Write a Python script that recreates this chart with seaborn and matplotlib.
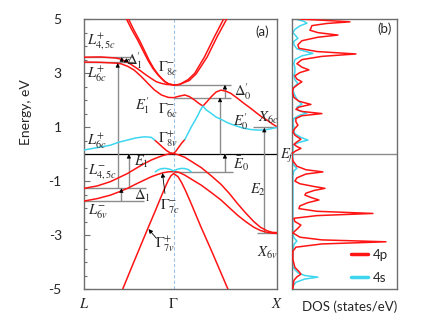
"""Band structure (a) and partial DOS (b) redrawn with seaborn."""
import matplotlib
matplotlib.use("Agg")
import matplotlib.pyplot as plt
import pandas as pd
import seaborn as sns

RED = "#ff1414"
CYAN = "#3ed6ef"
GREY = "#8c8c8c"
SPINE = "#6e6e6e"

# k-path: L = 0, Gamma = 0.866, X = 1.866
k_ticks = [0.0, 0.866, 1.866]
k_labels = [r"$L$", r"$\Gamma$", r"$X$"]
e_ticks = [5, 3, 1, -1, -3, -5]
e_labels = ["5", "3", "1", "-1", "-3", "-5"]

# ---- bands (k, energy in eV) ----
# L4,5c+ -> Gamma8c- and on up towards X
cb_l45_k = [0, 0.157, 0.305, 0.354, 0.423, 0.522, 0.600, 0.650, 0.699, 0.748, 0.797, 0.866,
            0.911, 0.942, 1.006, 1.069, 1.164, 1.259, 1.355]
cb_l45_e = [3.59, 3.60, 3.56, 3.52, 3.40, 3.15, 2.93, 2.80, 2.68, 2.62, 2.58, 2.56,
            2.57, 2.62, 2.76, 2.99, 3.60, 4.34, 5.05]
# second Gamma8c- branch towards X
cb_g8r_k = [0.866, 0.923, 0.942, 1.018, 1.085, 1.190, 1.285, 1.385]
cb_g8r_e = [2.56, 2.58, 2.61, 2.73, 2.98, 3.60, 4.34, 5.05]
# steep Gamma8c- branches towards L
cb_g8a_k = [0.404, 0.463, 0.519, 0.568, 0.617, 0.666, 0.715, 0.748, 0.781, 0.817, 0.866]
cb_g8b_k = [0.424, 0.481, 0.535, 0.582, 0.628, 0.674, 0.720, 0.752, 0.784, 0.818, 0.866]
cb_g8l_e = [5.05, 4.60, 4.22, 3.85, 3.48, 3.17, 2.93, 2.80, 2.68, 2.60, 2.56]
# L6c+ -> Gamma6c- -> X6c
cb_l6_k = [0, 0.157, 0.305, 0.354, 0.423, 0.485, 0.551, 0.617, 0.679, 0.748, 0.814, 0.866,
           0.914, 0.974, 1.018, 1.069, 1.109, 1.149, 1.190, 1.228, 1.276, 1.323, 1.371,
           1.418, 1.482, 1.545, 1.609, 1.672, 1.723, 1.768, 1.818, 1.866]
cb_l6_e = [3.41, 3.40, 3.37, 3.35, 3.25, 3.11, 2.88, 2.62, 2.38, 2.19, 2.10, 2.09,
           2.14, 2.19, 2.13, 2.00, 1.88, 1.78, 1.95, 2.12, 2.30, 2.37, 2.33,
           2.25, 2.07, 1.88, 1.70, 1.51, 1.36, 1.26, 1.12, 1.01]
# s-like band (cyan) from L, and its Gamma8v+ red part
s_left_k = [0, 0.128, 0.256, 0.335, 0.420, 0.502, 0.584, 0.650, 0.682]
s_left_e = [0.15, 0.24, 0.33, 0.44, 0.52, 0.60, 0.64, 0.62, 0.52]
lens_left_k = [0.682, 0.718, 0.758, 0.797, 0.831, 0.866]
lens_left_e = [0.52, 0.40, 0.26, 0.13, 0.05, 0.02]
lens_right_k = [0.866, 0.890, 0.914, 0.942, 0.974]
lens_right_e = [0.02, 0.12, 0.25, 0.40, 0.54]
s_right_k = [0.974, 1.006, 1.037, 1.069, 1.101, 1.123, 1.149, 1.180, 1.228, 1.276, 1.323,
             1.387, 1.450, 1.530, 1.609, 1.672, 1.736, 1.799, 1.866]
s_right_e = [0.54, 0.78, 1.01, 1.22, 1.44, 1.62, 1.78, 1.64, 1.51, 1.37, 1.29,
             1.16, 1.07, 0.97, 0.91, 0.89, 0.89, 0.93, 0.99]
# valence: L4,5v- -> Gamma8v+, Gamma8v+ -> X6v
vb1_left_k = [0, 0.128, 0.256, 0.338, 0.420, 0.502, 0.584, 0.650, 0.715, 0.765, 0.814, 0.866]
vb1_left_e = [-1.27, -1.18, -1.02, -0.87, -0.72, -0.53, -0.35, -0.22, -0.12, -0.05, 0.00, 0.02]
vb_right_k = [0.866, 0.914, 0.974, 1.037, 1.132, 1.228, 1.323, 1.402, 1.482, 1.561, 1.640,
              1.704, 1.768, 1.818, 1.866]
vb1_right_e = [0.02, -0.03, -0.12, -0.27, -0.50, -0.80, -1.12, -1.45, -1.83, -2.18, -2.50,
               -2.71, -2.84, -2.90, -2.91]
# L6v- -> Gamma -> X6v
vb2_left_e = [-1.74, -1.65, -1.52, -1.40, -1.27, -1.11, -0.96, -0.84, -0.75, -0.69, -0.66, -0.65]
vb2_right_e = [-0.65, -0.67, -0.78, -0.93, -1.15, -1.42, -1.70, -1.98, -2.26, -2.50, -2.71,
               -2.83, -2.90, -2.93, -2.94]
# Gamma7v+
g7v_k = [0.374, 0.453, 0.531, 0.617, 0.689, 0.748, 0.787, 0.817, 0.841, 0.866,
         0.909, 0.942, 0.980, 1.037, 1.132, 1.228, 1.323, 1.390]
g7v_e = [-5.0, -4.26, -3.54, -2.75, -2.10, -1.55, -1.20, -0.95, -0.80, -0.72,
         -0.84, -1.05, -1.35, -1.85, -2.72, -3.55, -4.40, -5.0]
# Gamma7c- (cyan)
g7c_k = [0.689, 0.718, 0.748, 0.787, 0.827, 0.866, 0.904, 0.942, 0.980, 1.009, 1.037]
g7c_e = [-0.66, -0.58, -0.54, -0.53, -0.56, -0.62, -0.56, -0.53, -0.54, -0.58, -0.66]

# ---- partial DOS (energy, states/eV) ----
dos_p_e = [5.00, 4.95, 4.90, 4.84, 4.76, 4.66, 4.59, 4.50, 4.41, 4.33, 4.20, 4.05, 3.92, 3.80,
           3.71, 3.62, 3.50, 3.35, 3.22, 3.12, 3.02, 2.90, 2.78, 2.68, 2.58, 2.45, 2.31, 2.10,
           1.96, 1.84, 1.74, 1.66, 1.58, 1.50, 1.42, 1.32, 1.20, 1.07, 0.95, 0.83, 0.70, 0.55,
           0.45, 0.36, 0.28, 0.21, 0.12, 0.02, -0.10, -0.25, -0.45, -0.58, -0.66, -0.74, -0.88,
           -1.00, -1.10, -1.20, -1.27, -1.35, -1.45, -1.52, -1.62, -1.70, -1.80, -1.92, -2.02,
           -2.12, -2.20, -2.28, -2.38, -2.50, -2.63, -2.75, -2.92, -3.08, -3.18, -3.25, -3.33,
           -3.45, -3.60, -3.90, -4.20, -4.35, -4.45, -4.55, -4.68, -5.00]
dos_p = [0.9, 3.5, 5.8, 3.5, 2.0, 1.9, 1.8, 2.6, 4.6, 2.6, 1.0, 0.6, 0.7, 2.5,
         6.4, 3.0, 1.0, 0.5, 1.0, 1.7, 0.8, 0.3, 0.5, 1.0, 0.6, 0.15, 0.05, 0.2,
         0.7, 1.9, 0.7, 0.4, 1.0, 3.0, 1.0, 0.4, 0.4, 0.6, 0.3, 0.1, 0.3, 0.9,
         0.5, 0.2, 0.5, 0.9, 0.4, 0.0, 0.0, 0.1, 0.5, 1.4, 3.1, 1.4, 0.5,
         0.3, 0.8, 2.2, 3.3, 2.2, 1.4, 1.3, 2.0, 2.7, 1.6, 0.8, 0.7,
         2.5, 8.1, 2.5, 0.2, 0.3, 0.9, 0.6, 0.1, 0.8, 3.0, 9.4, 3.0,
         0.4, 0.1, 0.1, 0.3, 0.7, 0.9, 0.5, 0.2, 0.1]
dos_s_e = [5.00, 4.92, 4.85, 4.75, 4.62, 4.50, 4.38, 4.29, 4.18, 4.05, 3.90, 3.80, 3.73, 3.64,
           3.50, 3.35, 3.20, 3.05, 2.90, 2.75, 2.62, 2.52, 2.40, 2.25, 2.10, 1.98, 1.85, 1.74,
           1.62, 1.52, 1.44, 1.32, 1.15, 1.00, 0.88, 0.75, 0.62, 0.52, 0.43, 0.33, 0.20, 0.05,
           -0.20, -0.42, -0.53, -0.62, -0.80, -2.00, -2.95, -3.10, -3.22, -3.35, -3.60, -4.20,
           -4.40, -4.50, -4.56, -4.63, -4.75, -4.90, -5.00]
dos_s = [0.4, 1.2, 1.5, 0.8, 0.3, 0.1, 0.4, 0.6, 0.2, 0.2, 0.5, 1.4, 2.1, 1.0,
         0.3, 0.2, 0.3, 0.3, 0.2, 0.3, 0.6, 0.3, 0.1, 0.2, 0.4, 0.6, 1.0, 0.5,
         0.6, 1.5, 0.8, 0.2, 0.1, 0.2, 0.2, 0.3, 0.9, 1.6, 0.7, 0.1, 0.1, 0.1,
         0.1, 0.2, 0.5, 0.2, 0.1, 0.1, 0.1, 0.2, 0.5, 0.2, 0.1, 0.1,
         0.6, 1.3, 2.6, 1.3, 0.4, 0.1, 0.05]

segments = [
    ("cb_l45", cb_l45_k, cb_l45_e, "p"),
    ("cb_g8r", cb_g8r_k, cb_g8r_e, "p"),
    ("cb_g8a", cb_g8a_k, cb_g8l_e, "p"),
    ("cb_g8b", cb_g8b_k, cb_g8l_e, "p"),
    ("cb_l6", cb_l6_k, cb_l6_e, "p"),
    ("s_left", s_left_k, s_left_e, "s"),
    ("lens_left", lens_left_k, lens_left_e, "p"),
    ("lens_right", lens_right_k, lens_right_e, "p"),
    ("s_right", s_right_k, s_right_e, "s"),
    ("vb1_left", vb1_left_k, vb1_left_e, "p"),
    ("vb1_right", vb_right_k, vb1_right_e, "p"),
    ("vb2_left", vb1_left_k, vb2_left_e, "p"),
    ("vb2_right", vb_right_k, vb2_right_e, "p"),
    ("g7v", g7v_k, g7v_e, "p"),
    ("g7c", g7c_k, g7c_e, "s"),
]
bands = pd.concat([pd.DataFrame({"k": k, "E": e, "seg": name, "orb": orb})
                   for name, k, e, orb in segments], ignore_index=True)

sns.set_theme(style="white")
plt.rcParams["font.family"] = ["Lato", "DejaVu Sans"]
plt.rcParams["mathtext.fontset"] = "stix"
plt.rcParams["axes.unicode_minus"] = False

fig = plt.figure(figsize=(4.47, 3.19), dpi=100)
ax = fig.add_axes([0.188, 0.094, 0.432, 0.846])
ax2 = fig.add_axes([0.653, 0.094, 0.235, 0.846])

# panel (a): bands
ax.axvline(0.866, color="#9cc3e6", lw=0.8, ls=(0, (3, 2)), zorder=0)
ax.axhline(0, color="black", lw=0.9, zorder=1)
sns.lineplot(data=bands, x="k", y="E", units="seg", hue="orb",
             palette={"p": RED, "s": CYAN}, estimator=None, sort=False,
             lw=1.1, legend=False, ax=ax, zorder=3)


def guide(ks, es):
    ax.plot(ks, es, color=GREY, lw=1.0, zorder=2, solid_capstyle="butt")


def up_arrow(k, e0, e1):
    guide([k, k], [e0, e1])
    ax.annotate("", xy=(k, e1), xytext=(k, e1 - 0.12),
                arrowprops=dict(arrowstyle="-|>", color="black", lw=0.5,
                                mutation_scale=6, shrinkA=0, shrinkB=0), zorder=4)


def pointer(k0, e0, k1, e1):
    ax.annotate("", xy=(k1, e1), xytext=(k0, e0),
                arrowprops=dict(arrowstyle="-|>", color="black", lw=0.6,
                                mutation_scale=6, shrinkA=0, shrinkB=0), zorder=4)


# transition markers
guide([0, 0.47], [3.59, 3.59])
guide([0, 0.47], [3.41, 3.41])
up_arrow(0.364, 3.41, 3.59)
pointer(0.436, 3.51, 0.381, 3.40)
guide([0, 0.60], [-1.27, -1.27])
guide([0, 0.58], [-1.74, -1.74])
up_arrow(0.361, -1.74, -1.27)
up_arrow(0.325, -1.27, 3.37)
up_arrow(0.433, -1.27, 0.0)
guide([0.866, 1.418], [2.56, 2.56])
guide([0.866, 1.418], [2.09, 2.09])
up_arrow(1.361, 2.09, 2.56)
up_arrow(1.314, 0.0, 2.09)
guide([0.866, 1.437], [-0.65, -0.65])
up_arrow(1.361, -0.65, 0.0)
guide([1.637, 1.866], [1.0, 1.0])
guide([1.676, 1.866], [-2.92, -2.92])
up_arrow(1.742, -2.92, 0.97)
pointer(0.782, -1.46, 0.758, -0.70)
pointer(0.699, -3.12, 0.623, -2.78)

labels = [
    (0.03, 4.15, r"$L^{+}_{4,5c}$"),
    (0.03, 2.96, r"$L^{+}_{6c}$"),
    (0.03, 0.48, r"$L^{+}_{6c}$"),
    (0.04, -0.70, r"$L^{-}_{4,5c}$"),
    (0.04, -2.15, r"$L^{-}_{6v}$"),
    (0.404, 3.48, r"$\Delta_1^{\prime}$"),
    (0.718, 3.15, r"$\Gamma^{-}_{8c}$"),
    (0.49, 1.81, r"$E_1^{\prime}$"),
    (0.718, 1.59, r"$\Gamma^{-}_{6c}$"),
    (0.718, 0.55, r"$\Gamma^{+}_{8v}$"),
    (1.447, 2.33, r"$\Delta_0^{\prime}$"),
    (1.680, 1.33, r"$X_{6c}$"),
    (1.437, 1.19, r"$E_0^{\prime}$"),
    (0.48, -0.30, r"$E_1$"),
    (1.437, -0.37, r"$\bar{E}_0$"),
    (0.48, -1.56, r"$\Delta_1$"),
    (0.738, -1.96, r"$\Gamma^{-}_{7c}$"),
    (1.600, -1.33, r"$E_2$"),
    (0.689, -3.33, r"$\Gamma^{+}_{7v}$"),
    (1.676, -3.67, r"$X_{6v}$"),
    (1.895, -0.07, r"$E_f$"),
]
for k, e, txt in labels:
    ax.text(k, e, txt, fontsize=10.5, ha="left", va="center", clip_on=False, zorder=5)
ax.text(0.92, 0.952, "(a)", transform=ax.transAxes, fontsize=9.5, ha="center", va="center")

ax.set_xlim(0, 1.866)
ax.set_ylim(-5, 5)
ax.set_xticks(k_ticks)
ax.set_xticklabels(k_labels, fontsize=10.5)
ax.set_yticks(e_ticks)
ax.set_yticklabels(e_labels, fontsize=10)
ax.set_yticks([v / 2 for v in range(-10, 11)], minor=True)
ax.tick_params(axis="x", length=0, pad=6)
ax.tick_params(axis="y", which="major", direction="in", length=4, width=0.8,
               color=SPINE, pad=16, left=True)
ax.tick_params(axis="y", which="minor", direction="in", length=2.5, width=0.8,
               color=SPINE, left=True)
ax.set_xlabel("")
ax.set_ylabel("")

# panel (b): DOS
ax2.axhline(0, color=GREY, lw=1.0, zorder=1)
sns.lineplot(x=dos_p, y=dos_p_e, sort=False, estimator=None, color=RED, lw=1.1,
             label="4p", ax=ax2, zorder=3)
sns.lineplot(x=dos_s, y=dos_s_e, sort=False, estimator=None, color=CYAN, lw=1.1,
             label="4s", ax=ax2, zorder=2)
ax2.set_xlim(0, 10.5)
ax2.set_ylim(-5, 5)
ax2.set_xticks([])
ax2.set_yticks([])
ax2.set_xlabel("")
ax2.set_ylabel("")
leg = ax2.legend(loc="lower left", bbox_to_anchor=(0.56, 0.02), frameon=False,
                 fontsize=9.5, handlelength=1.3, handletextpad=0.4, labelspacing=0.8,
                 borderpad=0, borderaxespad=0)
for line in leg.get_lines():
    line.set_linewidth(2.5)
ax2.text(0.886, 0.963, "(b)", transform=ax2.transAxes, fontsize=9.5, ha="center", va="center")

for a in (ax, ax2):
    for sp in a.spines.values():
        sp.set_color(SPINE)
        sp.set_linewidth(1.0)

fig.text(26 / 447, 1 - 112 / 319, "Energy, eV", rotation=90, fontsize=10,
         ha="center", va="center")
fig.text(350 / 447, 1 - 307 / 319, "DOS (states/eV)", fontsize=9.5,
         ha="center", va="center")

fig.savefig("out.png", dpi=100)
